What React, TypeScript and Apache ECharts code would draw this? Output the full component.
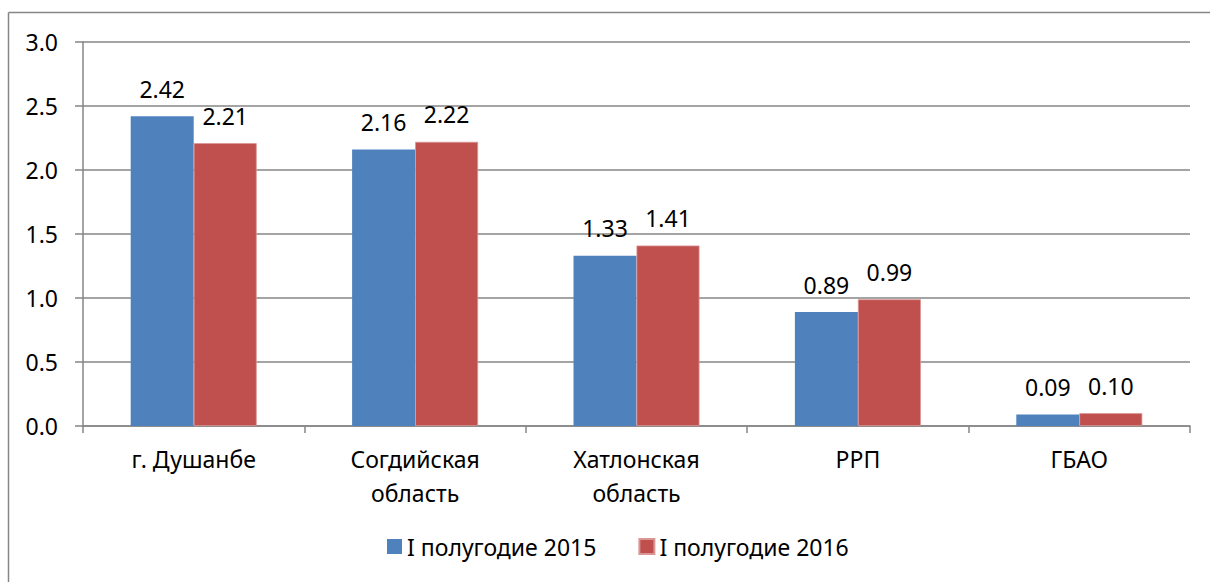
import React, { useEffect, useRef } from "react";
import * as echarts from "echarts";

const categories = ["г. Душанбе", "Согдийская\nобласть", "Хатлонская\nобласть", "РРП", "ГБАО"];
const series2015 = [2.42, 2.16, 1.33, 0.89, 0.09];
const series2016 = [2.21, 2.22, 1.41, 0.99, 0.10];
const seriesNames = ["I полугодие 2015", "I полугодие 2016"];
const yTicks = { min: 0, max: 3, interval: 0.5 };

const FONT = "'Noto Sans', 'Open Sans', sans-serif";
const GRID_COLOR = "#868686";
const FS = 23;

export default function App() {
  const ref = useRef<HTMLDivElement>(null);
  useEffect(() => {
    if (!ref.current) return;
    const chart = echarts.init(ref.current, undefined, { renderer: "svg" });
    const labelStyle = {
      show: true,
      position: "top" as const,
      distance: 16,
      fontSize: FS,
      fontFamily: FONT,
      color: "#000",
      formatter: (p: any) => Number(p.value).toFixed(2),
    };
    chart.setOption({
      animation: false,
      backgroundColor: "#fff",
      textStyle: { fontFamily: FONT },
      grid: { left: 83, right: 20, top: 42, bottom: 156, containLabel: false },
      legend: {
        data: seriesNames,
        bottom: 19,
        left: 382,
        itemWidth: 15,
        itemHeight: 15,
        itemGap: 42,
        icon: "rect",
        textStyle: { fontSize: FS, fontFamily: FONT, color: "#000" },
      },
      xAxis: {
        type: "category",
        data: categories,
        axisLine: { show: true, lineStyle: { color: GRID_COLOR, width: 1.5 } },
        axisTick: { show: true, length: 7, interval: 0, lineStyle: { color: GRID_COLOR, width: 1.5 } },
        axisLabel: {
          fontSize: FS,
          fontFamily: FONT,
          color: "#000",
          lineHeight: 34,
          margin: 16,
          interval: 0,
        },
      },
      yAxis: {
        type: "value",
        min: yTicks.min,
        max: yTicks.max,
        interval: yTicks.interval,
        axisLine: { show: true, lineStyle: { color: GRID_COLOR, width: 1.5 } },
        axisTick: { show: true, length: 8, lineStyle: { color: GRID_COLOR, width: 1.5 } },
        splitLine: { show: true, lineStyle: { color: GRID_COLOR, width: 1.5 } },
        axisLabel: {
          fontSize: FS,
          fontFamily: FONT,
          color: "#000",
          margin: 25,
          formatter: (v: number) => v.toFixed(1),
        },
      },
      series: [
        {
          name: seriesNames[0],
          type: "bar",
          data: series2015,
          barWidth: 63,
          barGap: "0%",
          itemStyle: { color: "#4F81BD" },
          label: labelStyle,
        },
        {
          name: seriesNames[1],
          type: "bar",
          data: series2016,
          barWidth: 63,
          barGap: "0%",
          itemStyle: { color: "#C0504D", borderColor: "#D99694", borderWidth: 0.8 },
          label: labelStyle,
        },
      ],
      graphic: [
        {
          type: "line",
          shape: { x1: 8.5, y1: 12.5, x2: 8.5, y2: 600 },
          style: { stroke: GRID_COLOR, lineWidth: 1.5 },
          silent: true,
        },
        {
          type: "line",
          shape: { x1: 8.5, y1: 12.5, x2: 1220, y2: 12.5 },
          style: { stroke: GRID_COLOR, lineWidth: 1.5 },
          silent: true,
        },
      ],
    });
    return () => chart.dispose();
  }, []);
  return (
    <div
      ref={ref}
      style={{ position: "absolute", left: 0, top: 0, width: 1210, height: 582 }}
    />
  );
}
